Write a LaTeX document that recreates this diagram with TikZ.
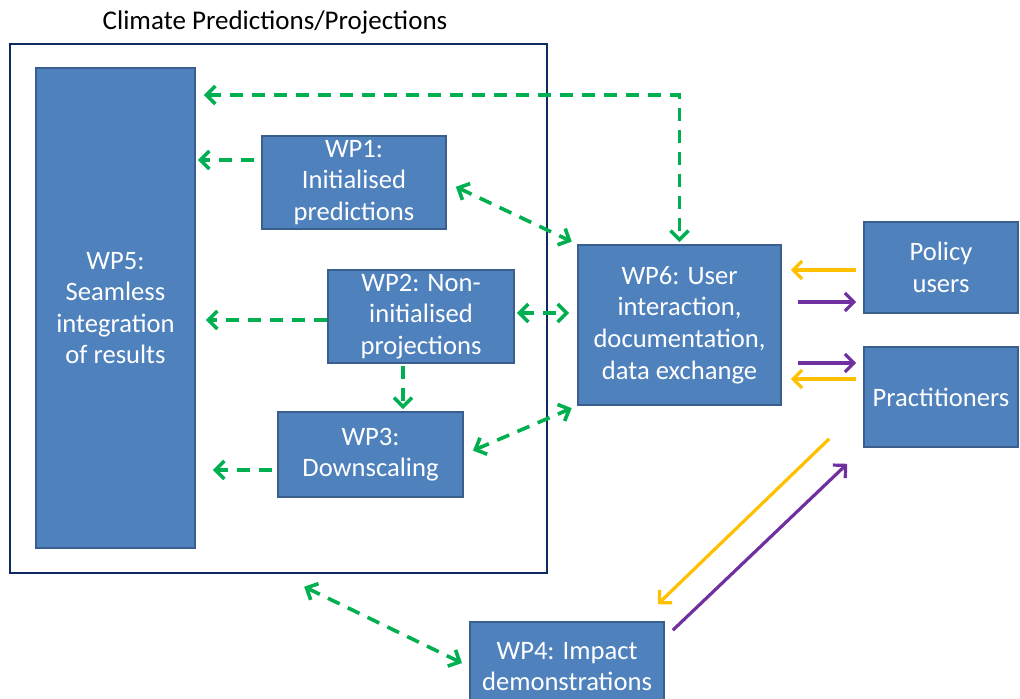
\documentclass[tikz,border=0pt]{standalone}
\usepackage{fontspec}
\setmainfont{Carlito}
\usetikzlibrary{arrows.meta,calc}

\definecolor{wpblau}{HTML}{4F81BD}
\definecolor{wprand}{HTML}{3A5F8F}
\definecolor{rahmenblau}{HTML}{0F2A63}
\definecolor{pfeilgruen}{HTML}{00B050}
\definecolor{pfeilgelb}{HTML}{FFC000}
\definecolor{pfeillila}{HTML}{7030A0}

\begin{document}
\begin{tikzpicture}[x=0.5pt,y=-0.5pt,>={Straight Barb[length=4.5pt,width=9pt]}]
  \tikzstyle{wp}=[draw=wprand,line width=0.8pt,fill=wpblau,text=white,align=center,inner sep=0pt,font=\fontsize{13.3}{15.8}\selectfont]
  \tikzstyle{fluss}=[pfeilgruen,line width=1.8pt,dash pattern=on 6.5pt off 4.5pt]
  \tikzstyle{rueck}=[line width=1.6pt]

  \clip (0,0) rectangle (1020,699);

  % Rahmen Klima
  \node[draw=rahmenblau,line width=1.25pt,minimum width=268.5pt,minimum height=264.5pt] (rahmen) at (278.5,308.5) {};
  \node[font=\fontsize{13.5}{15}\selectfont] (titel) at (275,22) {Climate Predictions/Projections};

  % Arbeitspakete
  \node[wp,minimum width=79.5pt,minimum height=240pt] (wp5) at (115.5,308) {WP5:\\Seamless\\integration\\of results};
  \node[wp,minimum width=92pt,minimum height=46.5pt] (wp1) at (354,182.5) {WP1:\\Initialised\\predictions};
  \node[wp,minimum width=93pt,minimum height=46.5pt] (wp2) at (421,316.5) {WP2: Non-\\initialised\\projections};
  \node[wp,minimum width=92.5pt,minimum height=42.5pt] (wp3) at (370.5,454.5) {WP3:\\Downscaling};
  \node[wp,minimum width=101.5pt,minimum height=80pt] (wp6) at (679.5,325) {WP6: User\\interaction,\\documentation,\\data exchange};
  \node[wp,minimum width=97pt,minimum height=44.5pt] (wp4) at (567,666.5) {WP4: Impact\\demonstrations};

  % Nutzer
  \node[wp,minimum width=77pt,minimum height=45.5pt] (policy) at (941,267.5) {Policy\\users};
  \node[wp,minimum width=77pt,minimum height=50pt] (pract) at (941,397) {Practitioners};

  % gruene Pfeile
  \coordinate (knick) at (682,95);
  \draw[fluss,<->,shorten <=4pt,shorten >=1pt] (wp5.east |- knick) -| (wp6.north);
  \draw[fluss,->,shorten <=3.5pt,shorten >=1pt] ($(wp1.west)+(0,-22.5)$) coordinate (a1) -- (a1 -| wp5.east);
  \draw[fluss,<->,shorten <=5pt,shorten >=3pt] (wp1.east) -- (wp6.north west);
  \draw[fluss,->,shorten >=5pt] ($(wp2.west)+(0,3.5)$) coordinate (a2) -- (a2 -| wp5.east);
  \draw[fluss,<->,shorten <=1pt,shorten >=4pt] ($(wp2.east)+(0,-3.5)$) coordinate (a3) -- (a3 -| wp6.west);
  \draw[fluss,->,shorten <=1pt,shorten >=1pt] ($(wp2.south)+(-18,0)$) coordinate (a4) -- (a4 |- wp3.north);
  \draw[fluss,->,shorten <=2.5pt,shorten >=8.5pt] ($(wp3.west)+(0,15.5)$) coordinate (a5) -- (a5 -| wp5.east);
  \draw[fluss,<->,shorten <=5pt,shorten >=3pt] (wp3.east) -- (wp6.south west);
  \draw[fluss,<->,shorten <=4pt,shorten >=4pt] ($(rahmen.south)+(18.5,9)$) -- (wp4.west);

  % Rueckkopplung Nutzer
  \coordinate (b1) at ($(policy.west)+(0,2.5)$);
  \coordinate (b2) at ($(policy.west)+(0,34.5)$);
  \coordinate (b3) at ($(pract.west)+(0,-34)$);
  \coordinate (b4) at ($(pract.west)+(0,-18)$);
  \draw[rueck,pfeilgelb,->,shorten <=3.5pt,shorten >=4.5pt] (b1) -- (b1 -| wp6.east);
  \draw[rueck,pfeillila,->,shorten <=8pt,shorten >=3.5pt] (b2 -| wp6.east) -- (b2);
  \draw[rueck,pfeillila,->,shorten <=8pt,shorten >=3.5pt] (b3 -| wp6.east) -- (b3);
  \draw[rueck,pfeilgelb,->,shorten <=3.5pt,shorten >=4.5pt] (b4) -- (b4 -| wp6.east);

  \coordinate (c1) at ($(pract.south west)+(-34,-9)$);
  \coordinate (c2) at ($(wp4.north east)+(-7,-17)$);
  \coordinate (c3) at ($(wp4.north east)+(8,9)$);
  \coordinate (c4) at ($(pract.south west)+(-16,16)$);
  \draw[rueck,pfeilgelb,->] (c1) -- (c2);
  \draw[rueck,pfeillila,->] (c3) -- (c4);
\end{tikzpicture}
\end{document}
